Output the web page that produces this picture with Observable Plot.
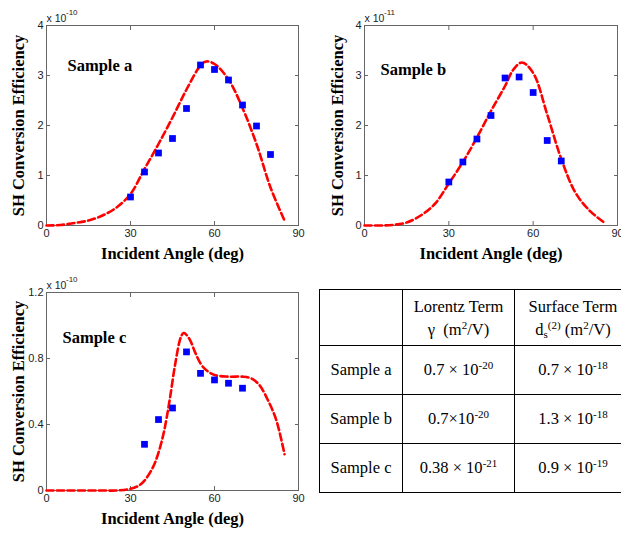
<!DOCTYPE html>
<html>
<head>
<meta charset="utf-8">
<script src="https://cdn.jsdelivr.net/npm/d3@7"></script>
<script src="https://cdn.jsdelivr.net/npm/@observablehq/plot@0.6"></script>
<style>
  html, body { margin: 0; padding: 0; background: #fff; }
  body { width: 621px; height: 533px; overflow: hidden; position: relative; }
  .panel { position: absolute; }
  table.params {
    position: absolute; left: 319px; top: 289px; width: 312px;
    border-collapse: collapse; table-layout: fixed;
    font-family: "Liberation Serif", "Times New Roman", serif; font-size: 16.5px; color: #000;
  }
  table.params td { border: 1px solid #000; text-align: center; vertical-align: middle; padding: 0; white-space: nowrap; }
  table.params tr.head td { height: 55px; line-height: 23px; }
  table.params tr.body td { height: 48px; }
  table.params sup { font-size: 11px; vertical-align: 6px; line-height: 0; }
  table.params sub { font-size: 11px; vertical-align: -3px; line-height: 0; }
</style>
</head>
<body>
<div id="pa" class="panel" style="left:0px;top:0px"></div>
<div id="pb" class="panel" style="left:310px;top:0px"></div>
<div id="pc" class="panel" style="left:0px;top:270px"></div>
<div id="tbl"></div>
<script>
// ---- data (efficiency in units of the axis multiplier) ----
const xTicks = [0, 30, 60, 90];
const yTicksAB = [0, 1, 2, 3, 4];
const yTicksC = [0, 0.4, 0.8, 1.2];

const measAngleA = [30, 35, 40, 45, 50, 55, 60, 65, 70, 75, 80];
const measEffA   = [0.57, 1.07, 1.45, 1.74, 2.34, 3.21, 3.12, 2.91, 2.41, 1.99, 1.42];
const fitAngleA  = [0, 5, 10, 15, 20, 25, 30, 35, 40, 45, 50, 55, 57, 60, 65, 70, 75, 80, 85];
const fitEffA    = [0, 0.01, 0.05, 0.10, 0.20, 0.36, 0.63, 1.13, 1.63, 2.16, 2.72, 3.20, 3.28, 3.23, 2.92, 2.35, 1.63, 0.76, 0.10];

const measAngleB = [30, 35, 40, 45, 50, 55, 60, 65, 70];
const measEffB   = [0.87, 1.27, 1.73, 2.20, 2.95, 2.97, 2.66, 1.70, 1.29];
const fitAngleB  = [0, 5, 10, 15, 20, 25, 30, 35, 40, 45, 50, 53, 56, 60, 65, 70, 75, 80, 85];
const fitEffB    = [0, 0, 0.01, 0.06, 0.20, 0.43, 0.84, 1.27, 1.76, 2.29, 2.79, 3.12, 3.26, 3.05, 2.22, 1.33, 0.66, 0.30, 0.07];

const measAngleC = [35, 40, 45, 50, 55, 60, 65, 70];
const measEffC   = [0.28, 0.43, 0.50, 0.84, 0.71, 0.67, 0.65, 0.62];
const fitAngleC  = [0, 5, 10, 15, 20, 25, 30, 33, 35, 38, 40, 42, 44, 46, 48, 49, 51, 53, 55, 57, 60, 65, 70, 73, 76, 79, 82, 85];
const fitEffC    = [0, 0, 0, 0, 0, 0, 0.01, 0.03, 0.06, 0.14, 0.23, 0.36, 0.55, 0.77, 0.93, 0.955, 0.92, 0.84, 0.77, 0.73, 0.70, 0.69, 0.69, 0.68, 0.64, 0.55, 0.43, 0.22];

const sampleNames = ["Sample a", "Sample b", "Sample c"];
const multiplierExp = ["-10", "-11", "-10"];
const xLabel = "Incident Angle (deg)";
const yLabel = "SH Conversion Efficiency";

// table
const tableHeadLorentz = ["Lorentz Term", "\u03B3\u00A0 (m<sup>2</sup>/V)"];
const tableHeadSurface = ["Surface Term", "d<sub>s</sub><sup>(2)</sup> (m<sup>2</sup>/V)"];
const lorentzTerm = ["0.7 \u00D7 10<sup>-20</sup>", "0.7\u00D710<sup>-20</sup>", "0.38 \u00D7 10<sup>-21</sup>"];
const surfaceTerm = ["0.7 \u00D7 10<sup>-18</sup>", "1.3 \u00D7 10<sup>-18</sup>", "0.9 \u00D7 10<sup>-19</sup>"];

const serif = "Liberation Serif, Times New Roman, serif";
const sans = "Liberation Sans, Arial, sans-serif";

function panel(o) {
  const fit = o.fitX.map((x, i) => ({x, y: o.fitY[i]}));
  const meas = o.measX.map((x, i) => ({x, y: o.measY[i]}));
  return Plot.plot({
    width: o.width, height: o.height,
    marginLeft: o.ml, marginRight: o.mr, marginTop: o.mt, marginBottom: o.mb,
    x: {domain: [0, 90]},
    y: {domain: [0, o.yMax]},
    style: {fontFamily: sans, fontSize: "11px", color: "#222", background: "transparent", overflow: "visible"},
    marks: [
      Plot.frame({stroke: "#666"}),
      Plot.axisX({anchor: "bottom", ticks: xTicks, tickSize: -4, tickPadding: 8, label: null, tickFormat: d => String(d), stroke: "#666"}),
      Plot.axisX({anchor: "top", ticks: xTicks, tickSize: -4, label: null, tickFormat: () => "", stroke: "#666"}),
      Plot.axisY({anchor: "left", ticks: o.yTicks, tickSize: -4, tickPadding: 7, label: null, tickFormat: d => String(d), stroke: "#666"}),
      Plot.axisY({anchor: "right", ticks: o.yTicks, tickSize: -4, label: null, tickFormat: () => "", stroke: "#666"}),
      Plot.line(fit, {x: "x", y: "y", stroke: "#ff0000", strokeWidth: 2.6, strokeDasharray: "7,3.5", curve: "catmull-rom"}),
      Plot.dot(meas, {x: "x", y: "y", symbol: "square", r: 3.8, fill: "#0000ff", stroke: null}),
      Plot.text([o.sample], {text: d => d, frameAnchor: "top-left", dx: o.sdx, dy: o.sdy, lineAnchor: "bottom", textAnchor: "start",
        fontFamily: serif, fontWeight: "bold", fontSize: 16.5, fill: "#000"}),
      Plot.text([xLabel], {text: d => d, frameAnchor: "bottom", dy: 33, lineAnchor: "bottom", textAnchor: "middle",
        fontFamily: serif, fontWeight: "bold", fontSize: 16.5, fill: "#000"}),
      Plot.text([yLabel], {text: d => d, frameAnchor: "left", rotate: -90, dx: o.ydx, lineAnchor: "middle", textAnchor: "middle",
        fontFamily: serif, fontWeight: "bold", fontSize: 16.5, fill: "#000"}),
      Plot.text(["x 10"], {text: d => d, frameAnchor: "top-left", dx: 0, dy: -4, lineAnchor: "bottom", textAnchor: "start",
        fontFamily: sans, fontSize: 10.5, fill: "#222"}),
      Plot.text([o.exp], {text: d => d, frameAnchor: "top-left", dx: 19.5, dy: -11, lineAnchor: "bottom", textAnchor: "start",
        fontFamily: sans, fontSize: 8, fill: "#222"})
    ]
  });
}

document.getElementById("pa").append(panel({
  fitX: fitAngleA, fitY: fitEffA, measX: measAngleA, measY: measEffA,
  yTicks: yTicksAB, yMax: 4, exp: multiplierExp[0], sample: sampleNames[0],
  width: 310, height: 270, ml: 46, mr: 12, mt: 25, mb: 45, sdx: 21, sdy: 45, ydx: -28
}));
document.getElementById("pb").append(panel({
  fitX: fitAngleB, fitY: fitEffB, measX: measAngleB, measY: measEffB,
  yTicks: yTicksAB, yMax: 4, exp: multiplierExp[1], sample: sampleNames[1],
  width: 311, height: 270, ml: 54, mr: 4, mt: 25, mb: 45, sdx: 16, sdy: 49, ydx: -27
}));
document.getElementById("pc").append(panel({
  fitX: fitAngleC, fitY: fitEffC, measX: measAngleC, measY: measEffC,
  yTicks: yTicksC, yMax: 1.2, exp: multiplierExp[2], sample: sampleNames[2],
  width: 310, height: 263, ml: 46, mr: 12, mt: 22, mb: 43, sdx: 16, sdy: 50, ydx: -28
}));

// table
let html = '<table class="params"><colgroup><col style="width:83px"><col style="width:112px"><col style="width:117px"></colgroup>';
html += '<tr class="head"><td></td><td>' + tableHeadLorentz.join("<br>") + '</td><td>' + tableHeadSurface.join("<br>") + '</td></tr>';
sampleNames.forEach((s, i) => {
  html += '<tr class="body"><td>' + s + '</td><td>' + lorentzTerm[i] + '</td><td>' + surfaceTerm[i] + '</td></tr>';
});
html += '</table>';
document.getElementById("tbl").innerHTML = html;
</script>
</body>
</html>
